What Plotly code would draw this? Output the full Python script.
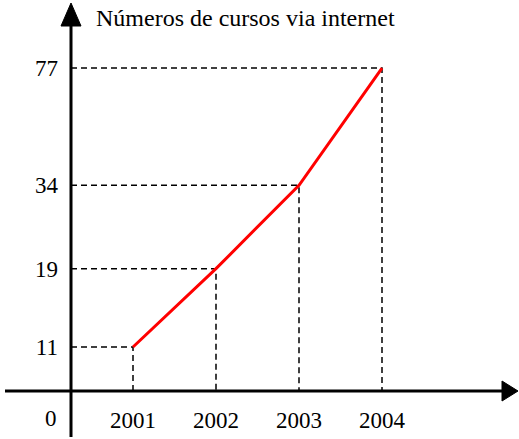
import plotly.graph_objects as go

# Data
years = [2001, 2002, 2003, 2004]
cursos = [11, 19, 34, 77]
y_ticks = [11, 19, 34, 77]
x_ticks = [2001, 2002, 2003, 2004]
title_text = "Números de cursos via internet"
origin_label = "0"

W, H = 519, 439
L, B = 71, 48
PW, PH = W - L, H - B

def px(x):
    return (x - L) / PW

def py(y):
    return (PH - y) / PH

X_LEFT = 2000.253
X_RIGHT = X_LEFT + PW / 83.0
Y_RANGE = [0.9081, 2.0929]  # log10 axis range
Y_BOTTOM = 10 ** Y_RANGE[0]

FONT = "Liberation Serif"

fig = go.Figure()

# dashed guide lines
for yr, v in zip(years, cursos):
    fig.add_trace(go.Scatter(
        x=[X_LEFT, yr, yr], y=[v, v, Y_BOTTOM], mode="lines",
        line=dict(color="black", width=1.5, dash="6px,4px"),
        hoverinfo="skip", showlegend=False, cliponaxis=False))

fig.add_trace(go.Scatter(
    x=years, y=cursos, mode="lines",
    line=dict(color="#ff0000", width=3), showlegend=False))

shapes = [
    dict(type="line", xref="paper", yref="paper", x0=px(71), x1=px(71), y0=py(437), y1=py(20),
         line=dict(color="black", width=3)),
    dict(type="path", xref="paper", yref="paper",
         path=f"M {px(71)},{py(3)} L {px(61)},{py(26)} L {px(81)},{py(26)} Z",
         fillcolor="black", line=dict(color="black", width=1)),
    dict(type="line", xref="paper", yref="paper", x0=px(5), x1=px(505), y0=py(391), y1=py(391),
         line=dict(color="black", width=3)),
    dict(type="path", xref="paper", yref="paper",
         path=f"M {px(518)},{py(391)} L {px(502)},{py(381)} L {px(502)},{py(401)} Z",
         fillcolor="black", line=dict(color="black", width=1)),
]

annotations = [
    dict(text=title_text, xref="paper", yref="paper", x=px(94), y=py(18),
         xanchor="left", yanchor="middle", showarrow=False,
         font=dict(family=FONT, size=24, color="black")),
    dict(text=origin_label, xref="paper", yref="paper", x=px(59), y=py(418),
         xanchor="right", yanchor="middle", showarrow=False,
         font=dict(family=FONT, size=23, color="black")),
]

fig.update_layout(
    width=W, height=H,
    margin=dict(l=L, r=0, t=0, b=B),
    plot_bgcolor="white", paper_bgcolor="white",
    shapes=shapes, annotations=annotations,
    xaxis=dict(range=[X_LEFT, X_RIGHT], tickvals=x_ticks, ticktext=[str(t) for t in x_ticks],
               showgrid=False, zeroline=False, showline=False, ticks="",
               ticklabelstandoff=13,
               tickfont=dict(family=FONT, size=23, color="black")),
    yaxis=dict(type="log", range=Y_RANGE, tickvals=y_ticks, ticktext=[str(t) for t in y_ticks],
               showgrid=False, zeroline=False, showline=False, ticks="",
               ticklabelstandoff=12,
               tickfont=dict(family=FONT, size=23, color="black")),
)

fig.write_html("out.html", config={"displayModeBar": False},
               post_script="document.body.style.margin='0';")
